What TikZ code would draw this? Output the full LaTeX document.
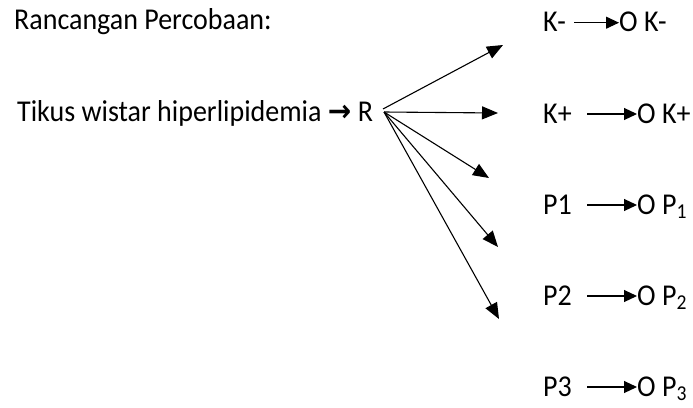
\documentclass[tikz,border=0pt]{standalone}
\usepackage{fontspec}
\usepackage{graphicx}
\setmainfont{Carlito}
\newfontfamily\arrowfont{DejaVu Sans}
\newcommand{\mytxt}[1]{\scalebox{1}[1.08]{#1}}
\usetikzlibrary{arrows.meta}
\begin{document}
\begin{tikzpicture}[x=1pt,y=-1pt,
  txt/.style={anchor=base west, inner sep=0pt, font=\fontsize{28}{32}\selectfont},
  fan/.style={line width=1.1pt, -{Triangle[length=16pt,width=13pt]}},
  rowarrow/.style={line width=1.1pt, -{Triangle[length=13pt,width=12pt]}}]
\useasboundingbox (0,0) rectangle (693,407);
% left texts
\node[txt] (title) at (14,29.5) {\mytxt{Rancangan Percobaan:}};
\node[txt] (tikus) at (17,121.5) {\mytxt{Tikus wistar hiperlipidemia {\arrowfont\bfseries →} R}};
% fan
\coordinate (o) at (384,112);
\coordinate (o1) at (383,109);
\coordinate (t1) at (503,45);
\coordinate (t2) at (498,113);
\coordinate (t3) at (489,178);
\coordinate (t4) at (498,247);
\coordinate (t5) at (499,319);
\draw[fan] (o1) -- (t1);
\draw[fan] (o) -- (t2);
\draw[fan] (o) -- (t3);
\draw[fan] (o) -- (t4);
\draw[fan] (o) -- (t5);
% right rows
\node[txt] (lKm) at (543,31.5) {\mytxt{K-}};
\node[txt] (oKm) at (619,31.5) {\mytxt{O K-}};
\node[txt] (lKp) at (543,123) {\mytxt{K+}};
\node[txt] (oKp) at (637,123) {\mytxt{O K+}};
\node[txt] (lP1) at (543,214) {\mytxt{P1}};
\node[txt] (oP1) at (637,214) {\mytxt{O P\textsubscript{1}}};
\node[txt] (lP2) at (543,305) {\mytxt{P2}};
\node[txt] (oP2) at (637,305) {\mytxt{O P\textsubscript{2}}};
\node[txt] (lP3) at (543,396) {\mytxt{P3}};
\node[txt] (oP3) at (637,396) {\mytxt{O P\textsubscript{3}}};
\coordinate (sKm) at (574,22.7);
\coordinate (sKp) at (587,114);
\coordinate (sP1) at (587,205);
\coordinate (sP2) at (587,296);
\coordinate (sP3) at (587,387);
\draw[rowarrow] (sKm) -- (sKm -| oKm.west);
\draw[rowarrow] (sKp) -- (sKp -| oKp.west);
\draw[rowarrow] (sP1) -- (sP1 -| oP1.west);
\draw[rowarrow] (sP2) -- (sP2 -| oP2.west);
\draw[rowarrow] (sP3) -- (sP3 -| oP3.west);
\end{tikzpicture}
\end{document}
